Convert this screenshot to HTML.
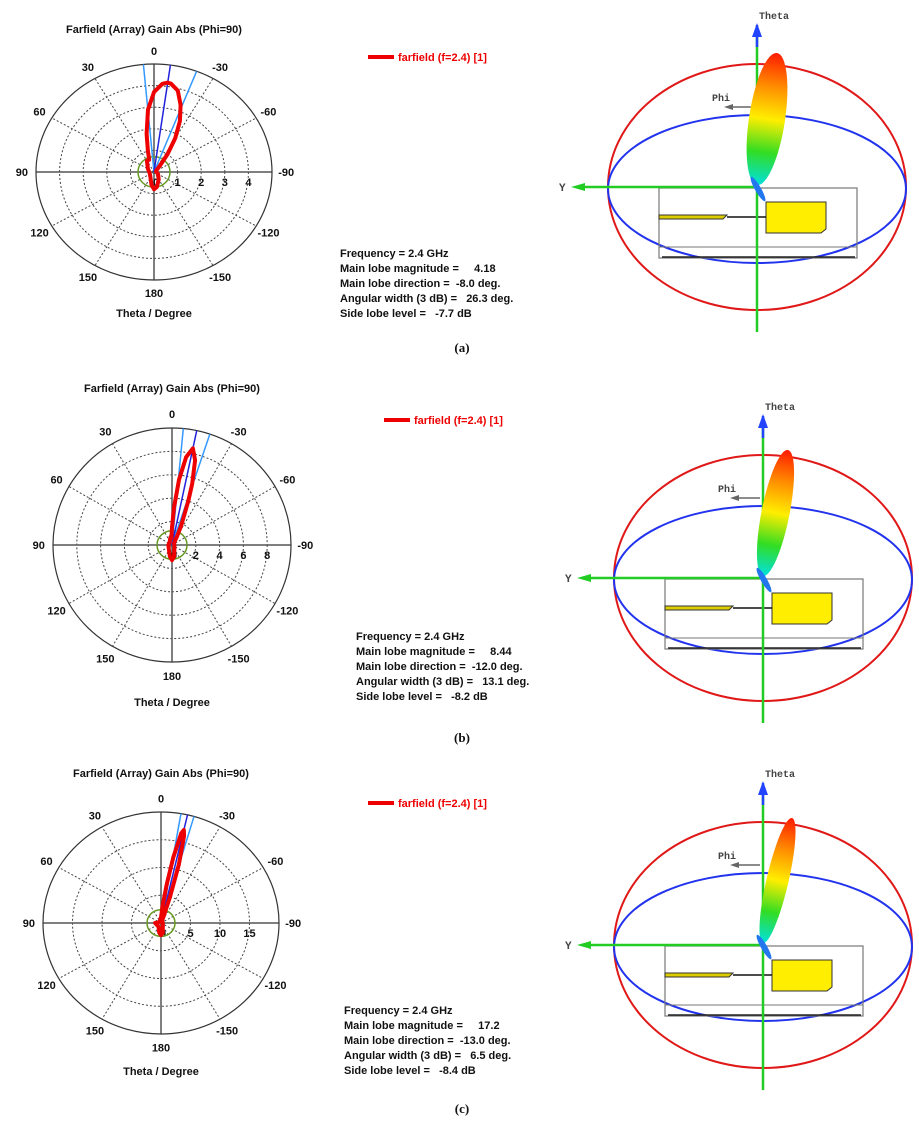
<!DOCTYPE html>
<html><head><meta charset="utf-8"><style>
html,body{margin:0;padding:0;background:#fff}
svg{display:block}
text{font-family:"Liberation Sans",sans-serif}
.b{font-weight:bold;font-size:11px;fill:#111}
</style></head><body>
<svg id="fig" width="919" height="1126" viewBox="0 0 919 1126" xmlns="http://www.w3.org/2000/svg">
<defs>
<linearGradient id="lobeg" x1="0" y1="0" x2="0" y2="1">
<stop offset="0" stop-color="#ff1a00"/><stop offset="0.25" stop-color="#ff8c00"/>
<stop offset="0.5" stop-color="#ffee00"/><stop offset="0.75" stop-color="#33dd22"/>
<stop offset="1" stop-color="#00e0e0"/></linearGradient>
</defs>
<g id="root"></g>
</svg>
<script>
// ---- data ----
const angA=[-40,-35,-30,-25,-20,-15,-10,-8,-5,0,5,10,15,20,30,60,90,120,150,170,180,-170,-150,-120,-90,-60];
const gainA=[0.4,1.0,1.8,2.6,3.3,3.9,4.15,4.18,4.1,3.7,2.9,1.8,1.0,0.6,0.6,0.3,0.2,0.2,0.3,0.6,0.8,0.7,0.4,0.2,0.1,0.1];
const angB=[-30,-25,-20,-18,-15,-12,-9,-6,-3,0,5,10,20,40,90,150,170,180,-170,-150,-90,-60,-40];
const gainB=[0.8,1.8,4.0,5.5,7.5,8.44,7.6,5.6,3.2,1.5,0.6,0.7,0.5,0.3,0.3,0.5,1.0,1.3,1.0,0.4,0.2,0.2,0.3];
const angC=[-25,-20,-18,-16,-14,-13,-12,-10,-8,-5,0,5,20,60,90,150,170,180,-170,-150,-90,-50,-35];
const gainC=[0.5,1.5,5,11,16.2,17.2,16.5,12,7,3,1,0.8,0.5,0.3,1,0.8,1.8,2.2,1.8,0.6,0.3,0.3,0.4];
const ticksA=[1,2,3,4];
const ticksB=[2,4,6,8];
const ticksC=[5,10,15];
const mainDir=[-8,-12,-13];
const beamWidth=[26.3,13.1,6.5];
const angleLabels=[0,30,60,90,120,150,180,-150,-120,-90,-60,-30];

const NS="http://www.w3.org/2000/svg";
const root=document.getElementById('root');
function mk(tag,attrs,parent){const e=document.createElementNS(NS,tag);for(const k in attrs)e.setAttribute(k,attrs[k]);(parent||root).appendChild(e);return e;}
function txt(x,y,s,cls,parent,extra){const t=mk('text',Object.assign({x:x,y:y,class:cls||'b'},extra||{}),parent);t.textContent=s;return t;}

function polar(cfg,angs,gains,ticks,dir,bw,idx){
  const g=mk('g',{});
  
  
  const {cx,cy,rx,ry,max,title,ty}=cfg;
  const P=(th,r)=>[cx-(r/max)*rx*Math.sin(th*Math.PI/180),cy-(r/max)*ry*Math.cos(th*Math.PI/180)];
  const t=txt(cx,ty,title,'b',g,{'text-anchor':'middle'});
  
  
  ticks.forEach(v=>{const r=mk('ellipse',{cx:cx,cy:cy,rx:rx*v/max,ry:ry*v/max,fill:'none',stroke:'#444','stroke-width':1,'stroke-dasharray':'2,2'},g);
    
    });
  [30,60,120,150].forEach(a=>{[a,-a].forEach(b=>{const p=P(b,max);const l=mk('line',{x1:cx,y1:cy,x2:p[0],y2:p[1],stroke:'#444','stroke-dasharray':'2,2'},g);
    
    });});
  mk('line',{x1:cx-rx,y1:cy,x2:cx+rx,y2:cy,stroke:'#555','stroke-width':1.5},g);
  mk('line',{x1:cx,y1:cy-ry,x2:cx,y2:cy+ry,stroke:'#555','stroke-width':1.5},g);
  const o=mk('ellipse',{cx:cx,cy:cy,rx:rx,ry:ry,fill:'none',stroke:'#333','stroke-width':1.2},g);
  
  
  angleLabels.forEach(a=>{const p=[cx-1.12*rx*Math.sin(a*Math.PI/180),cy-1.12*ry*Math.cos(a*Math.PI/180)];
    const l=txt(p[0],p[1]+4,String(a),'b',g,{'text-anchor':'middle'});
    
    });
  txt(cx+2,cy+14,'0','b',g,{'text-anchor':'middle'});
  ticks.forEach(v=>{const l=txt(cx+rx*v/max,cy+14,String(v),'b',g,{'text-anchor':'middle'});
    
    });
  const xl=txt(cx,cfg.xy,'Theta / Degree','b',g,{'text-anchor':'middle'});
  
  
  mk('ellipse',{cx:cx,cy:cy,rx:cfg.gr,ry:cfg.gr*0.95,fill:'none',stroke:'#669922','stroke-width':1.5},g);
  [[dir+bw/2,'#3399ff'],[dir-bw/2,'#3399ff'],[dir,'#2222dd']].forEach(([a,c])=>{const p=P(a,max);
    const l=mk('line',{x1:cx,y1:cy,x2:p[0],y2:p[1],stroke:c,'stroke-width':1.5},g);
    
    });
  const pts=angs.map((a,i)=>P(a,gains[i]).map(v=>v.toFixed(1)).join(',')).join(' ');
  const pl=mk('polygon',{points:pts,fill:'none',stroke:'#ee0000','stroke-width':4,'stroke-linejoin':'round'},g);
  
  
}

function info(x,y,lx,ly,vals,idx){
  const g=mk('g',{});
  
  
  mk('line',{x1:lx,y1:ly,x2:lx+26,y2:ly,stroke:'#ee0000','stroke-width':4},g);
  const lg=txt(lx+30,ly+4,'farfield (f=2.4) [1]','b',g,{fill:'#ee0000',style:'fill:#ee0000'});
  
  
  const lines=['Frequency = 2.4 GHz','Main lobe magnitude =     '+vals[0],'Main lobe direction =  '+vals[1]+' deg.','Angular width (3 dB) =   '+vals[2]+' deg.','Side lobe level =   '+vals[3]+' dB'];
  lines.forEach((s,i)=>{const t=txt(x,y+i*15,s,'b',g,{'xml:space':'preserve'});t.style.whiteSpace='pre';});
}

function view3d(cx,cy,tipdx,tipdy,lw,idx){
  const g=mk('g',{});
  
  
  mk('ellipse',{cx:cx,cy:cy,rx:149,ry:123,fill:'none',stroke:'#e01818','stroke-width':2},g);
  mk('ellipse',{cx:cx,cy:cy+2,rx:149,ry:74,fill:'none',stroke:'#2233ee','stroke-width':2},g);
  mk('rect',{x:cx-98,y:cy+1,width:198,height:70,fill:'none',stroke:'#777','stroke-width':1.2},g);
  mk('line',{x1:cx-98,y1:cy+60,x2:cx+100,y2:cy+60,stroke:'#777'},g);
  mk('line',{x1:cx-95,y1:cy+70,x2:cx+98,y2:cy+70,stroke:'#222','stroke-width':1.5},g);
  mk('polygon',{points:`${cx+9},${cy+15} ${cx+69},${cy+15} ${cx+69},${cy+42} ${cx+64},${cy+46} ${cx+9},${cy+46}`,fill:'#ffee00',stroke:'#333'},g);
  mk('polygon',{points:`${cx-98},${cy+28} ${cx-30},${cy+28} ${cx-34},${cy+32} ${cx-98},${cy+32}`,fill:'#ddcc00',stroke:'#333'},g);
  mk('line',{x1:cx-30,y1:cy+30,x2:cx+9,y2:cy+30,stroke:'#111','stroke-width':1.5},g);
  mk('line',{x1:cx,y1:cy-160,x2:cx,y2:cy+145,stroke:'#22cc22','stroke-width':2.5},g);
  mk('line',{x1:cx,y1:cy-140,x2:cx,y2:cy-162,stroke:'#2244ff','stroke-width':2.5},g);
  mk('polygon',{points:`${cx-5},${cy-150} ${cx+5},${cy-150} ${cx},${cy-164}`,fill:'#2244ff'},g);
  txt(cx+2,cy-168,'Theta','b',g,{style:'font-family:Liberation Mono,monospace;font-size:10px;fill:#444'});
  mk('line',{x1:cx,y1:cy,x2:cx-180,y2:cy,stroke:'#22cc22','stroke-width':2.5},g);
  mk('polygon',{points:`${cx-172},${cy-4} ${cx-172},${cy+4} ${cx-186},${cy}`,fill:'#22cc22'},g);
  txt(cx-198,cy+4,'Y','b',g,{style:'font-family:Liberation Mono,monospace;font-size:11px;fill:#444'});
  mk('line',{x1:cx-3,y1:cy-80,x2:cx-27,y2:cy-80,stroke:'#666','stroke-width':1.5},g);
  mk('polygon',{points:`${cx-24},${cy-83} ${cx-24},${cy-77} ${cx-33},${cy-80}`,fill:'#666'},g);
  txt(cx-45,cy-86,'Phi','b',g,{style:'font-family:Liberation Mono,monospace;font-size:10px;fill:#444'});
  const L=Math.hypot(tipdx,tipdy), ang=Math.atan2(tipdx,-tipdy)*180/Math.PI;
  const lb=mk('ellipse',{cx:0,cy:-L/2,rx:lw,ry:L/2,fill:'url(#lobeg)',transform:`translate(${cx},${cy-2}) rotate(${ang})`},g);
  
  
  mk('ellipse',{cx:0,cy:0,rx:3,ry:14,fill:'#2277ee',transform:`translate(${cx+1},${cy+2}) rotate(-30)`},g);
}

polar({cx:154,cy:172,rx:118,ry:108,max:5,title:'Farfield (Array) Gain Abs (Phi=90)',ty:33,xy:317,gr:16},angA,gainA,ticksA,mainDir[0],beamWidth[0],'a');
polar({cx:172,cy:545,rx:119,ry:117,max:10,title:'Farfield (Array) Gain Abs (Phi=90)',ty:392,xy:706,gr:15},angB,gainB,ticksB,mainDir[1],beamWidth[1],'b');
polar({cx:161,cy:923,rx:118,ry:111,max:20,title:'Farfield (Array) Gain Abs (Phi=90)',ty:777,xy:1075,gr:14},angC,gainC,ticksC,mainDir[2],beamWidth[2],'c');

info(340,257,368,57,['4.18','-8.0','26.3','-7.7'],'a');
info(356,640,384,420,['8.44','-12.0','13.1','-8.2'],'b');
info(344,1014,368,803,['17.2','-13.0','6.5','-8.4'],'c');

view3d(757,187,20,-132,18,'a');
view3d(763,578,25,-126,14,'b');
view3d(763,945,29,-125,11,'c');

[['(a)',462,352],['(b)',462,742],['(c)',462,1113]].forEach(([s,x,y])=>{const t=txt(x,y,s,'',root,{'text-anchor':'middle',style:'font-family:Liberation Serif,serif;font-size:13px;fill:#111'});
  
  });
</script>
</body></html>
